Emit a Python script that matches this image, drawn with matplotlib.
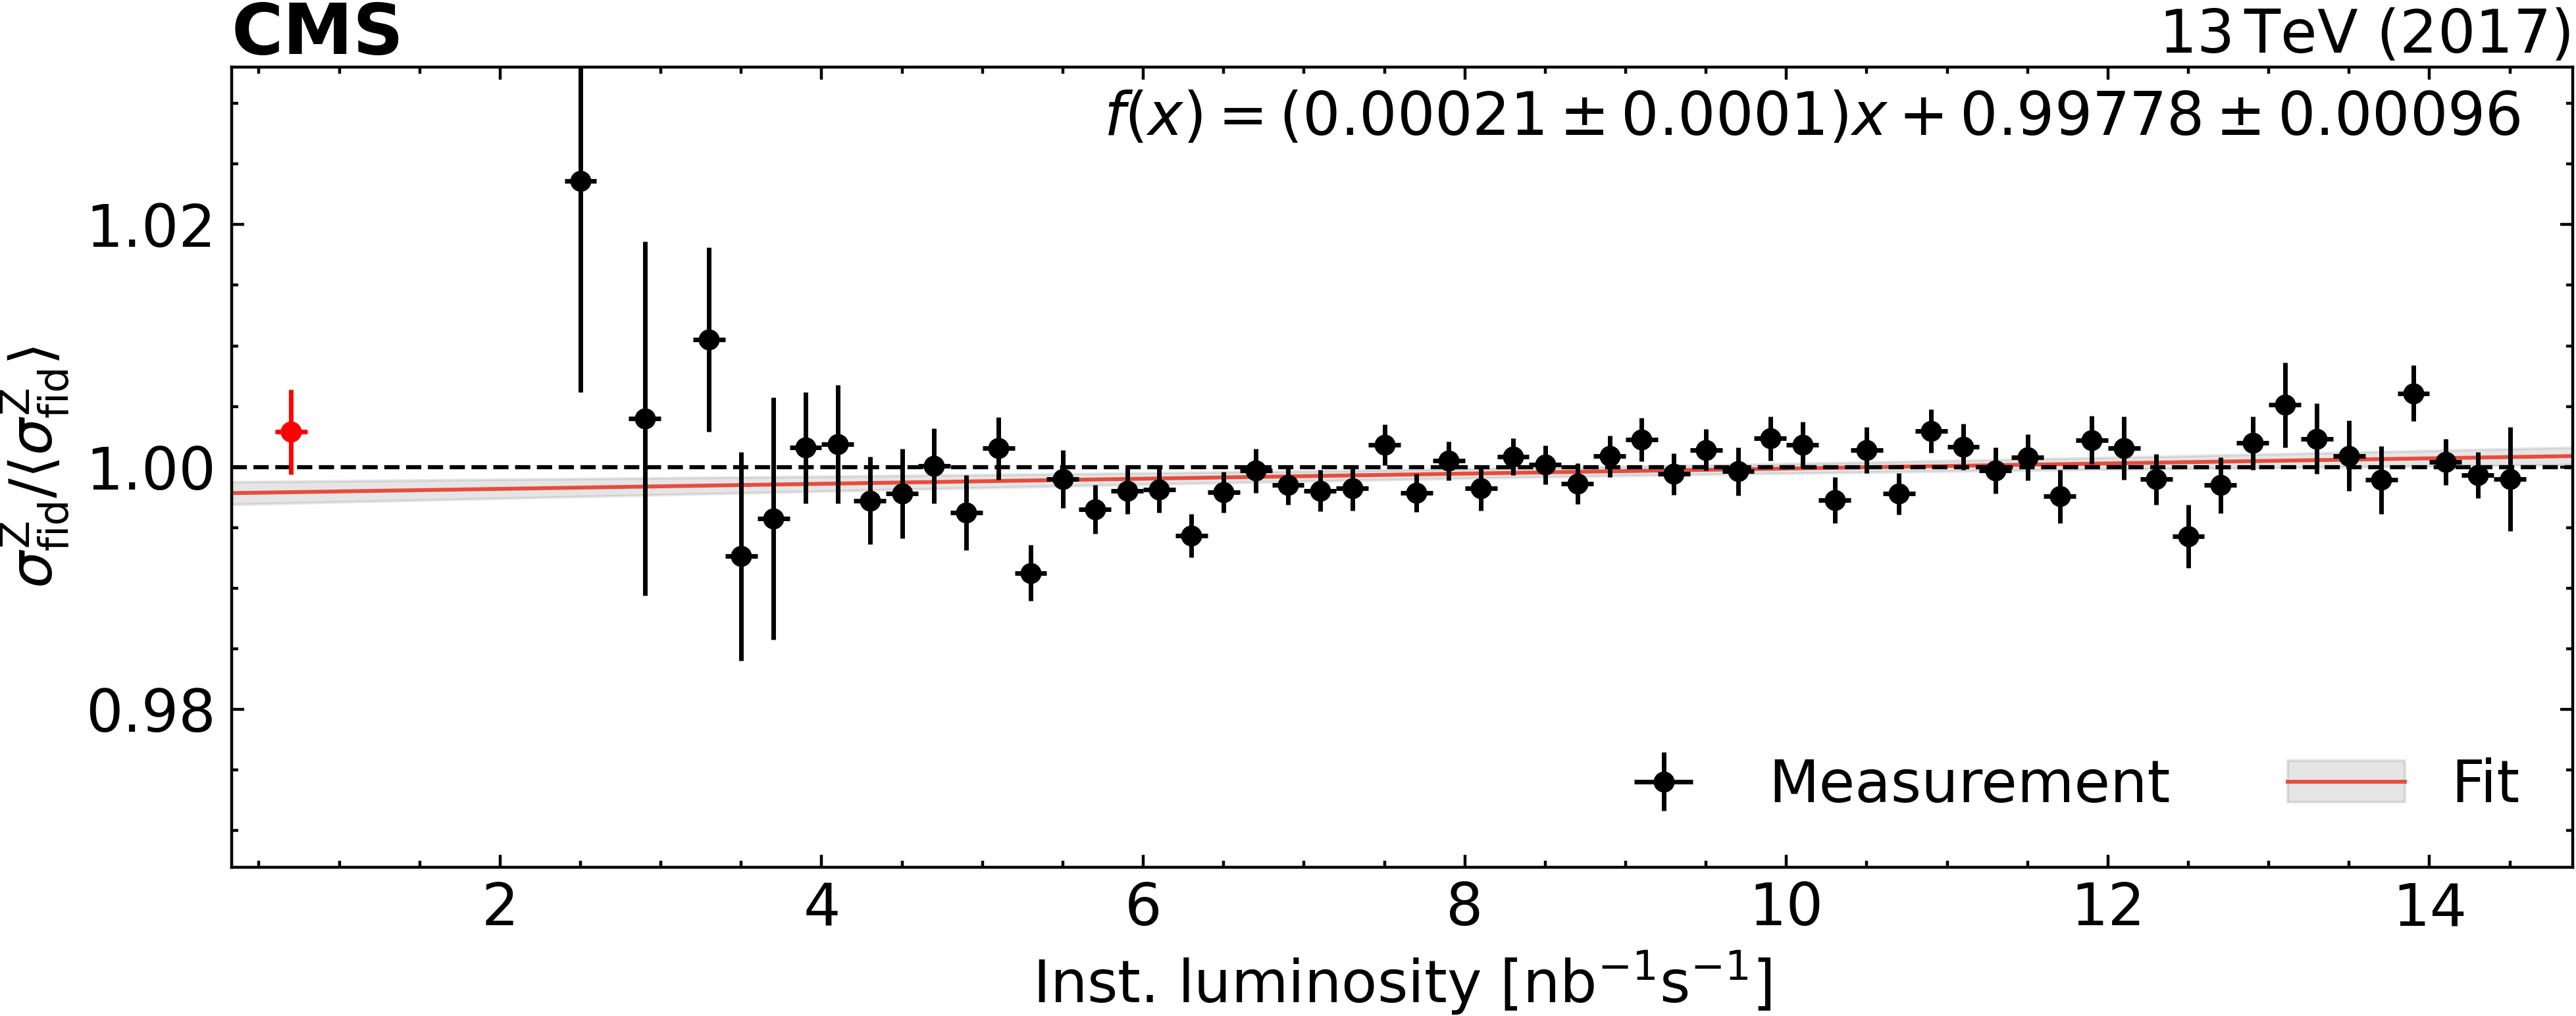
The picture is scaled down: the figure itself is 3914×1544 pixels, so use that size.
import numpy as np
import matplotlib
matplotlib.use("Agg")
import matplotlib.pyplot as plt
from matplotlib.ticker import MultipleLocator, FormatStrFormatter

# measured ratio per inst. luminosity bin
lumi = [2.5, 2.9, 3.3, 3.5, 3.7, 3.9, 4.1, 4.3, 4.5, 4.7, 4.9, 5.1, 5.3, 5.5,
        5.7, 5.9, 6.1, 6.3, 6.5, 6.7, 6.9, 7.1, 7.3, 7.5, 7.7, 7.9, 8.1, 8.3,
        8.5, 8.7, 8.9, 9.1, 9.3, 9.5, 9.7, 9.9, 10.1, 10.3, 10.5, 10.7, 10.9,
        11.1, 11.3, 11.5, 11.7, 11.9, 12.1, 12.3, 12.5, 12.7, 12.9, 13.1, 13.3,
        13.5, 13.7, 13.9, 14.1, 14.3, 14.5]
ratio = [1.0236, 1.0040, 1.0105, 0.99265, 0.99576, 1.0016, 1.0019, 0.99723,
         0.99783, 1.0001, 0.99624, 1.00154, 0.99127, 0.99901, 0.99653, 0.99805,
         0.99814, 0.99434, 0.99792, 0.99969, 0.99852, 0.99805, 0.99823, 1.00184,
         0.99787, 1.00051, 0.99823, 1.00085, 1.00018, 0.99863, 1.00090, 1.00226,
         0.99942, 1.00141, 0.99964, 1.00235, 1.00181, 0.99729, 1.00141, 0.99779,
         1.00297, 1.00166, 0.99969, 1.00080, 0.99759, 1.00224, 1.00157, 0.99899,
         0.99429, 0.99850, 1.00197, 1.00514, 1.00233, 1.00092, 0.99893, 1.00609,
         1.00040, 0.99933, 0.99901]
ratio_err = [0.0174, 0.0146, 0.0076, 0.0086, 0.0100, 0.0046, 0.0049, 0.0036,
             0.0037, 0.0031, 0.0031, 0.0026, 0.0023, 0.0024, 0.0020, 0.0019,
             0.0019, 0.0018, 0.0017, 0.0018, 0.0016, 0.0017, 0.0018, 0.0017,
             0.0016, 0.0016, 0.0018, 0.0015, 0.0016, 0.0017, 0.0017, 0.0018,
             0.0017, 0.0017, 0.0020, 0.0018, 0.0019, 0.0019, 0.0019, 0.0017,
             0.0018, 0.0019, 0.0019, 0.0019, 0.0022, 0.0020, 0.0026, 0.0021,
             0.0026, 0.0023, 0.0022, 0.0035, 0.0029, 0.0029, 0.0028, 0.0023,
             0.0019, 0.0019, 0.0043]
lumi_halfwidth = 0.1

# low pileup bin (red, not in fit)
low_lumi = [0.7]
low_ratio = [1.0029]
low_err = [0.0035]

# linear fit result
slope, slope_err = 0.00021, 0.0001
offset, offset_err = 0.99778, 0.00096
corr = -0.92

xmin, xmax = 0.33, 14.89
ymin, ymax = 0.967, 1.033

fs = 64

fig = plt.figure(figsize=(39.14, 15.44), dpi=100)
ax = fig.add_axes([0.0899, 0.1466, 0.9088, 0.7874])

xs = np.linspace(xmin, xmax, 300)
fit = slope * xs + offset
fit_unc = np.sqrt(offset_err**2 + (xs * slope_err)**2
                  + 2 * xs * corr * slope_err * offset_err)
band = ax.fill_between(xs, fit - fit_unc, fit + fit_unc, color="gray",
                       alpha=0.2, linewidth=3, zorder=1)
line, = ax.plot(xs, fit, color="#e74c3c", lw=4.2, zorder=2)
ax.axhline(1.0, color="black", ls="--", lw=4.5, zorder=3)

ebar_style = dict(fmt="o", ms=23, mew=0, elinewidth=5, capsize=7.5,
                  capthick=5, zorder=4)
meas = ax.errorbar(lumi, ratio, yerr=ratio_err, xerr=lumi_halfwidth,
                   color="black", **ebar_style)
ax.errorbar(low_lumi, low_ratio, yerr=low_err, xerr=lumi_halfwidth,
            color="red", **ebar_style)

ax.set_xlim(xmin, xmax)
ax.set_ylim(ymin, ymax)
ax.xaxis.set_major_locator(MultipleLocator(2))
ax.xaxis.set_minor_locator(MultipleLocator(0.5))
ax.yaxis.set_major_locator(MultipleLocator(0.02))
ax.yaxis.set_minor_locator(MultipleLocator(0.005))
ax.yaxis.set_major_formatter(FormatStrFormatter("%.2f"))
ax.tick_params(which="both", direction="in", top=True, right=True,
               width=3.2, labelsize=fs)
ax.tick_params(which="major", length=14)
ax.tick_params(which="minor", length=7.5)
ax.tick_params(axis="x", pad=15)
ax.tick_params(axis="y", pad=17)
for s in ax.spines.values():
    s.set_linewidth(3.2)

ax.set_xlabel(r"Inst. luminosity [nb$^{-1}$s$^{-1}$]", fontsize=fs,
              va="baseline")
ax.xaxis.set_label_coords(0.5, -0.1698)
ax.set_ylabel(r"$\sigma^{\mathrm{Z}}_{\mathrm{fid}}/\langle\sigma^{\mathrm{Z}}_{\mathrm{fid}}\rangle$",
              fontsize=fs)
ax.yaxis.set_label_coords(-0.0686, 0.5)

fig.text(0.0899, 1 - 82 / 1544, "CMS", fontsize=77, fontweight="bold",
         ha="left", va="baseline")
fig.text(3905 / 3914, 1 - 80 / 1544, r"13$\,$TeV (2017)", fontsize=65,
         ha="right", va="baseline")
fig.text(3830 / 3914, 1 - 205 / 1544,
         r"$f(x) = (0.00021 \pm 0.0001)x + 0.99778 \pm 0.00096$",
         fontsize=65, ha="right", va="baseline")

ax.legend([meas, (band, line)], ["Measurement", "Fit"], loc="lower right",
          ncol=2, frameon=False, fontsize=fs)

fig.savefig("out.png", dpi=100)
